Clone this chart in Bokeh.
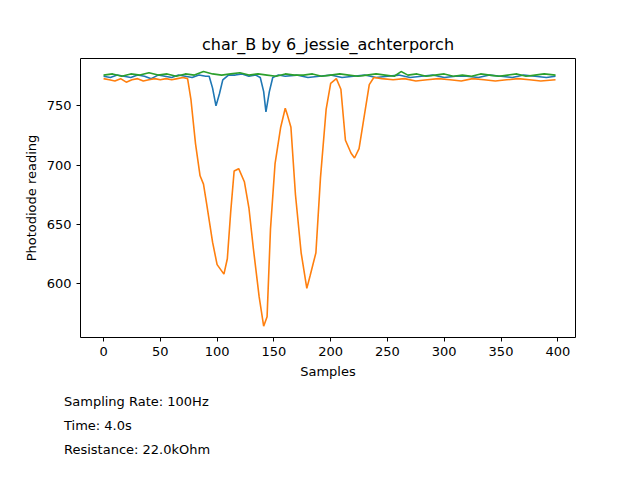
from bokeh.plotting import figure
from bokeh.models import Range1d, Div, FixedTicker
from bokeh.layouts import column
from bokeh.embed import file_html
from bokeh.resources import INLINE

blue_x = [0,6,12,18,24,30,36,42,48,54,60,66,72,78,84,90,93,96,99,102,105,110,116,122,128,134,138,141,143,146,149,154,160,170,180,190,200,210,220,230,240,250,260,270,280,290,300,310,320,330,340,350,360,370,380,390,398]
blue_y = [775,774,776,775,774,776,775,773,776,775,774,776,775,774,776,775,775,765,750,760,772,776,776,777,775,776,774,762,745,762,774,776,775,776,774,775,776,774,775,776,774,775,776,774,775,776,774,775,775,774,776,775,774,776,775,774,775]

orange_x = [0,5,10,15,20,25,30,35,40,45,50,55,60,65,70,74,77,81,85,88,91,96,100,106,109,112,115,119,124,128,132,137,141,144,147,151,156,160,162,165,169,174,179,182,187,191,196,200,205,209,213,218,221,225,229,234,238,245,255,265,275,285,295,305,315,325,335,345,355,365,375,385,398]
orange_y = [773,772,771,773,770,772,773,771,772,773,772,773,772,773,774,773,755,718,691,684,666,635,616,608,621,661,695,697,686,664,629,589,564,572,646,701,732,748,742,732,675,626,596,607,626,689,747,769,773,764,721,710,706,714,738,768,774,773,772,773,771,772,773,772,771,773,772,771,772,773,772,771,772]

green_x = [0,8,16,24,32,40,48,56,64,72,80,88,96,104,112,120,128,136,144,152,160,168,176,184,192,200,208,216,224,232,240,248,256,262,268,276,284,292,300,308,316,324,332,340,348,356,364,372,380,388,398]
green_y = [776,777,775,777,776,778,776,777,775,777,776,779,777,776,777,778,776,777,776,775,777,776,776,777,775,776,777,776,775,776,777,776,775,779,776,777,775,776,777,775,776,775,777,776,775,776,777,775,776,777,776]

x_ticks = [0, 50, 100, 150, 200, 250, 300, 350, 400]
y_ticks = [600, 650, 700, 750]
title = "char_B by 6_jessie_achterporch"
info_lines = ["Sampling Rate: 100Hz", "Time: 4.0s", "Resistance: 22.0kOhm"]

p = figure(width=640, height=385, output_backend="svg", toolbar_location=None,
           x_range=Range1d(-20.3, 415.6), y_range=Range1d(554.5, 790),
           min_border_left=80, min_border_right=65, min_border_top=58, min_border_bottom=48,
           title=title)
p.title.align = "center"
p.title.text_font = "DejaVu Sans"
p.title.text_font_size = "16px"
p.title.text_font_style = "normal"
p.title.text_color = "black"
p.xgrid.visible = False
p.ygrid.visible = False
p.outline_line_color = "black"
p.outline_line_width = 1
p.outline_line_alpha = 1
for ax, ticks, lab in ((p.xaxis[0], x_ticks, "Samples"), (p.yaxis[0], y_ticks, "Photodiode reading")):
    ax.ticker = FixedTicker(ticks=ticks)
    ax.axis_label = lab
    ax.axis_label_text_font = "DejaVu Sans"
    ax.axis_label_text_font_size = "13px"
    ax.axis_label_text_font_style = "normal"
    ax.axis_label_text_color = "black"
    ax.major_label_text_font = "DejaVu Sans"
    ax.major_label_text_font_size = "13px"
    ax.major_label_text_color = "black"
    ax.minor_tick_line_color = None
    ax.major_tick_line_color = "black"
    ax.major_tick_out = 4
    ax.major_tick_in = 0
    ax.axis_line_color = None

p.line(blue_x, blue_y, color="#1f77b4", line_width=1.6)
p.line(orange_x, orange_y, color="#ff7f0e", line_width=1.6)
p.line(green_x, green_y, color="#2ca02c", line_width=1.6)

div = Div(text="<div style='font-family:DejaVu Sans;font-size:13px;line-height:24px;margin-left:59px;color:black'>" + "<br>".join(info_lines) + "</div>",
          width=400, height=80)
lay = column(p, div, spacing=0)
open("out.html", "w").write(file_html(lay, INLINE))
